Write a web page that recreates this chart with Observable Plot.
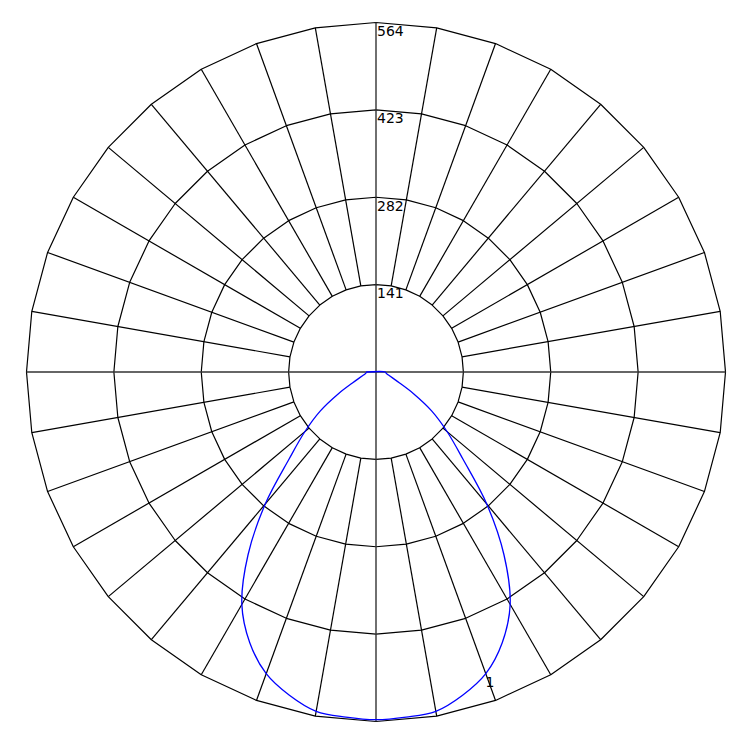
<!DOCTYPE html>
<html>
<head>
<meta charset="utf-8">
<script src="https://cdn.jsdelivr.net/npm/d3@7"></script>
<script src="https://cdn.jsdelivr.net/npm/@observablehq/plot@0.6"></script>
<style>
  html, body { margin: 0; padding: 0; background: #fff; }
</style>
</head>
<body>
<div id="chart"></div>
<script>
// Ring (tick) values of the polar grid
const ringValues = [141, 282, 423, 564];
const ringLabels = ["141", "282", "423", "564"];
// Grid spoke angles (degrees)
const spokeAngles = d3.range(0, 360, 10);
// Intensity curve: angle from nadir (deg) and value (cd)
const curveAngles = [0, 5, 10, 15, 20, 25, 30, 35, 40, 45, 50, 55, 60, 65, 70, 75, 80, 85, 90];
const curveValues = [561, 559, 556, 540, 518, 482, 433, 360, 278, 198, 150, 110, 70, 42, 29, 22, 18, 16, 15];
const curveName = "1";
const labelAngle = 19;
const labelValue = 528;

const maxR = 564;
const rad = d => d * Math.PI / 180;

// grid rings as polygons through the spokes
const ringPts = [];
for (const R of ringValues) {
  for (const a of d3.range(0, 361, 10)) {
    ringPts.push({ring: R, x: R * Math.sin(rad(a)), y: R * Math.cos(rad(a))});
  }
}
// spokes
const spokes = spokeAngles.filter(a => a % 90 !== 0).map(a => ({
  x1: ringValues[0] * Math.sin(rad(a)), y1: ringValues[0] * Math.cos(rad(a)),
  x2: maxR * Math.sin(rad(a)), y2: maxR * Math.cos(rad(a))
}));
const axes = [
  {x1: -maxR, y1: 0, x2: maxR, y2: 0},
  {x1: 0, y1: -maxR, x2: 0, y2: maxR}
];
// curve, mirrored left/right, closed over the top
const curve = [];
for (let i = curveAngles.length - 1; i >= 0; i--) {
  const a = -curveAngles[i], v = curveValues[i];
  curve.push({x: v * Math.sin(rad(a)), y: -v * Math.cos(rad(a))});
}
for (let i = 1; i < curveAngles.length; i++) {
  const a = curveAngles[i], v = curveValues[i];
  curve.push({x: v * Math.sin(rad(a)), y: -v * Math.cos(rad(a))});
}
curve.push(curve[0]);

const labels = ringValues.map((R, i) => ({x: 0, y: R, t: ringLabels[i]}));

const chart = Plot.plot({
  width: 750,
  height: 750,
  marginLeft: 26,
  marginRight: 25,
  marginTop: 22,
  marginBottom: 29,
  x: {domain: [-maxR, maxR], axis: null},
  y: {domain: [-maxR, maxR], axis: null},
  style: {fontFamily: "DejaVu Sans, sans-serif", background: "#fff"},
  marks: [
    Plot.line(ringPts, {x: "x", y: "y", z: "ring", stroke: "black", strokeWidth: 1.2}),
    Plot.link(spokes, {x1: "x1", y1: "y1", x2: "x2", y2: "y2", stroke: "black", strokeWidth: 1.2}),
    Plot.link(axes, {x1: "x1", y1: "y1", x2: "x2", y2: "y2", stroke: "#333", strokeWidth: 1.4}),
    Plot.line(curve, {x: "x", y: "y", stroke: "#0000ff", strokeWidth: 1.3, curve: "catmull-rom"}),
    Plot.text(labels, {x: "x", y: "y", text: "t", textAnchor: "start", dx: 1, dy: 9, fontSize: 14, fill: "black"}),
    Plot.text([{a: labelAngle, v: labelValue}], {
      x: d => d.v * Math.sin(rad(d.a)), y: d => -d.v * Math.cos(rad(d.a)),
      text: () => curveName, textAnchor: "start", dx: 3, dy: 1, fontSize: 14, fill: "black"
    })
  ]
});
document.getElementById("chart").appendChild(chart);
</script>
</body>
</html>
